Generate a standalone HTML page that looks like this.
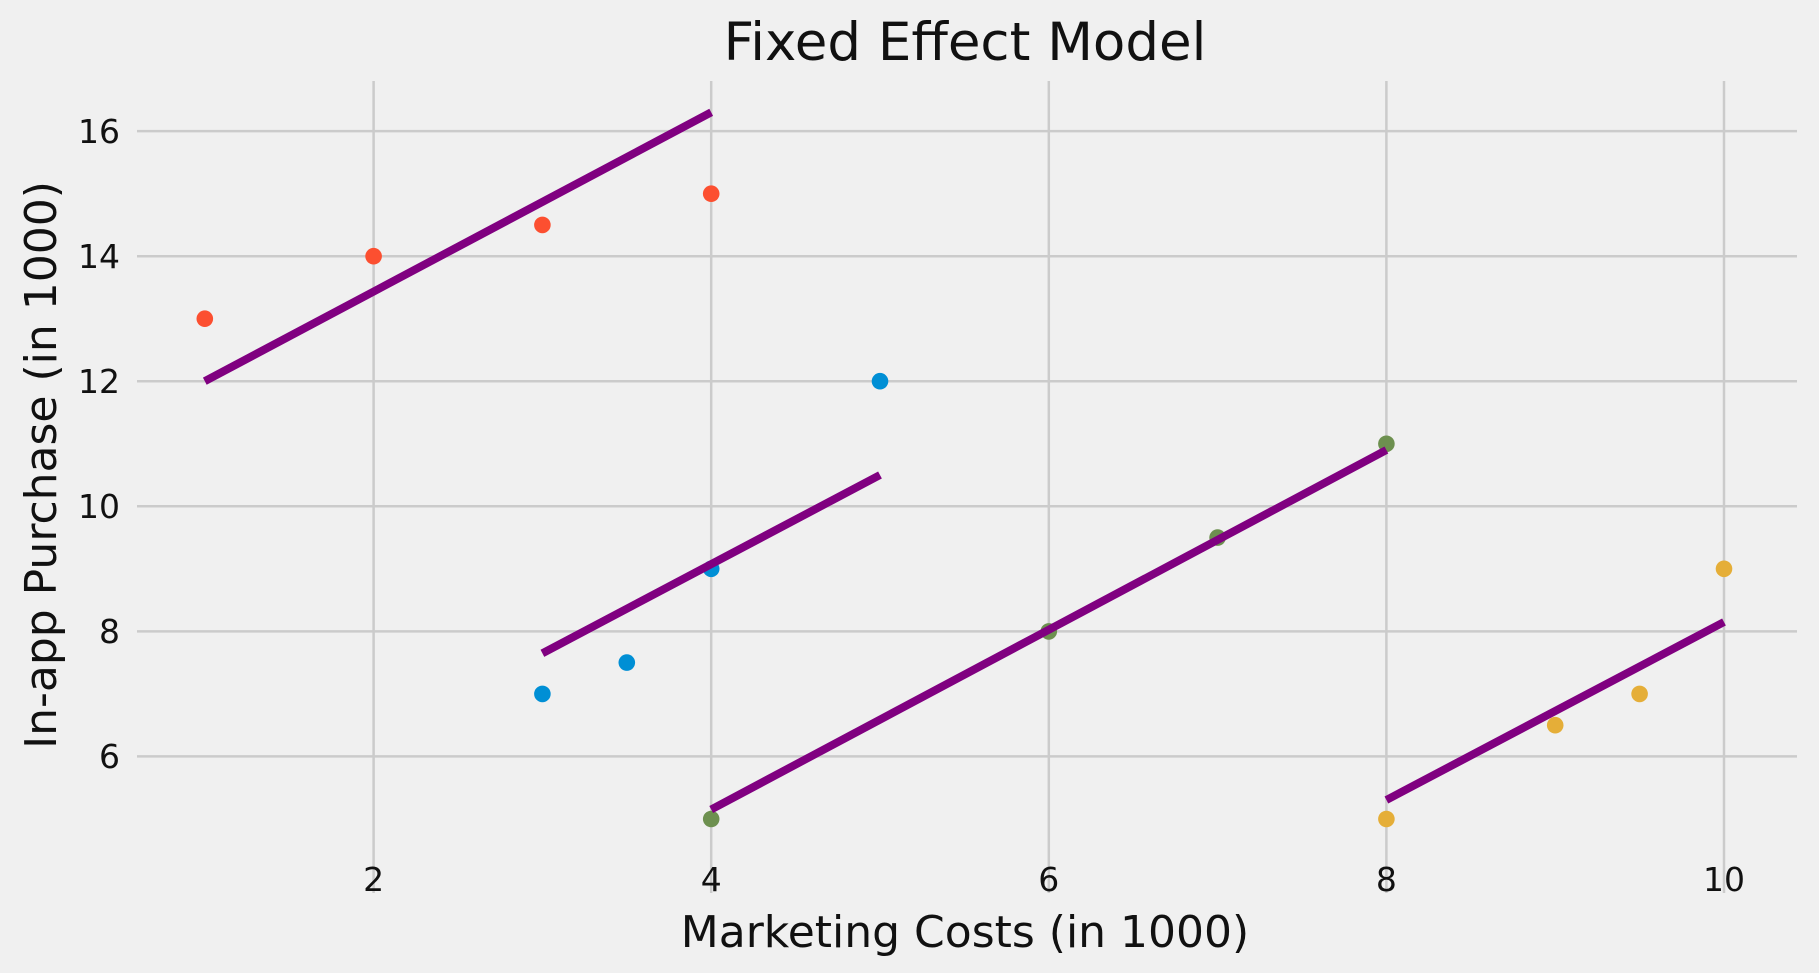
<!DOCTYPE html>
<html><head><meta charset="utf-8"><style>
html,body{margin:0;padding:0;background:#f0f0f0;}
svg{display:block;font-family:"DejaVu Sans","Liberation Sans",sans-serif;}
</style></head><body>
<svg width="1819" height="973" viewBox="0 0 1819 973" xmlns="http://www.w3.org/2000/svg">
<rect width="1819" height="973" fill="#f0f0f0"/>
<g stroke="#cbcbcb" stroke-width="2.5">
<line x1="373.6" y1="81" x2="373.6" y2="893"/>
<line x1="711.2" y1="81" x2="711.2" y2="893"/>
<line x1="1048.8" y1="81" x2="1048.8" y2="893"/>
<line x1="1386.4" y1="81" x2="1386.4" y2="893"/>
<line x1="1724" y1="81" x2="1724" y2="893"/>
<line x1="137" y1="756.4" x2="1797" y2="756.4"/>
<line x1="137" y1="631.4" x2="1797" y2="631.4"/>
<line x1="137" y1="506.3" x2="1797" y2="506.3"/>
<line x1="137" y1="381.2" x2="1797" y2="381.2"/>
<line x1="137" y1="256.2" x2="1797" y2="256.2"/>
<line x1="137" y1="131.1" x2="1797" y2="131.1"/>
</g>
<g fill="#fc4f30"><circle cx="204.8" cy="318.7" r="8.3"/><circle cx="373.6" cy="256.2" r="8.3"/><circle cx="542.4" cy="224.9" r="8.3"/><circle cx="711.2" cy="193.7" r="8.3"/></g>
<g fill="#008fd5"><circle cx="542.4" cy="693.9" r="8.3"/><circle cx="626.8" cy="662.6" r="8.3"/><circle cx="711.2" cy="568.8" r="8.3"/><circle cx="880" cy="381.2" r="8.3"/></g>
<g fill="#6d904f"><circle cx="711.2" cy="819" r="8.3"/><circle cx="1048.8" cy="631.4" r="8.3"/><circle cx="1217.6" cy="537.6" r="8.3"/><circle cx="1386.4" cy="443.8" r="8.3"/></g>
<g fill="#e5ae38"><circle cx="1386.4" cy="819" r="8.3"/><circle cx="1555.2" cy="725.2" r="8.3"/><circle cx="1639.6" cy="693.9" r="8.3"/><circle cx="1724" cy="568.8" r="8.3"/></g>
<g stroke="#800080" stroke-width="8">
<line x1="204.8" y1="381.2" x2="711.2" y2="112.3"/>
<line x1="542.4" y1="653.3" x2="880" y2="475"/>
<line x1="711.2" y1="809.5" x2="1386.4" y2="450"/>
<line x1="1386.4" y1="800" x2="1724" y2="622"/>
</g>
<g font-size="33" fill="#111" text-anchor="middle">
<text x="373.6" y="891">2</text><text x="711.2" y="891">4</text><text x="1048.8" y="891">6</text><text x="1386.4" y="891">8</text><text x="1724" y="891">10</text>
</g>
<g font-size="33" fill="#111" text-anchor="end">
<text x="120" y="768">6</text><text x="120" y="643">8</text><text x="120" y="518">10</text><text x="120" y="393">12</text><text x="120" y="268">14</text><text x="120" y="143">16</text>
</g>
<text x="965" y="60" font-size="53" text-anchor="middle" fill="#111">Fixed Effect Model</text>
<text x="965" y="947" font-size="44" text-anchor="middle" fill="#111">Marketing Costs (in 1000)</text>
<text transform="translate(56,465) rotate(-90)" font-size="44" text-anchor="middle" fill="#111">In-app Purchase (in 1000)</text>
</svg>
</body></html>
